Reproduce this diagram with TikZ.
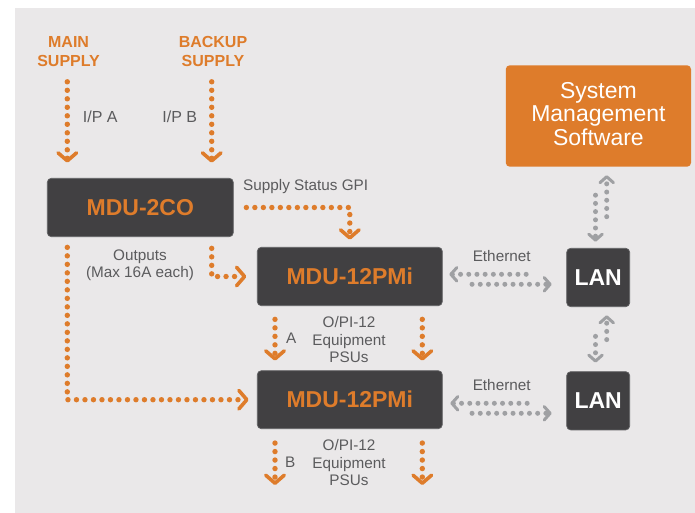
\documentclass[tikz,border=0pt]{standalone}
\usepackage{fontspec}
\setmainfont{Liberation Sans}
\usetikzlibrary{arrows.meta}
\definecolor{orng}{HTML}{DE7C2B}
\definecolor{darkbox}{HTML}{414042}
\definecolor{edgec}{HTML}{626264}
\definecolor{bgc}{HTML}{EAE8E9}
\definecolor{gtxt}{HTML}{5B5B5D}
\definecolor{gdotc}{HTML}{9FA0A3}
\tikzset{
  otip/.tip={Straight Barb[length=8pt,width=18.5pt,line width=3.6pt,round]},
  gtip/.tip={Straight Barb[length=6pt,width=13.5pt,line width=3pt,round]},
  odot/.style={draw=orng, color=orng, line width=5.4pt, line cap=round, dash pattern=on 0pt off 8.5pt},
  gdot/.style={draw=gdotc, color=gdotc, line width=5pt, line cap=round, dash pattern=on 0pt off 8.2pt},
  dbox/.style={fill=darkbox, draw=edgec, line width=0.7pt, rounded corners=4pt, inner sep=0pt,
    font=\fontsize{23}{27}\selectfont\bfseries},
  gtext/.style={text=gtxt, inner sep=0pt, font=\fontsize{15.3}{17.3}\selectfont},
  otext/.style={text=orng, inner sep=0pt, align=center, font=\fontsize{16}{19}\selectfont\bfseries},
}
\begin{document}
\begin{tikzpicture}[x=1pt,y=-1pt]
\useasboundingbox (0,0) rectangle (695,513);
\fill[white] (0,0) rectangle (695,513);
\fill[bgc] (15,8) rectangle (695,513);

% column coordinates
\coordinate (colA) at (67.3,0);
\coordinate (colB) at (211.7,0);
\coordinate (colC) at (275,0);
\coordinate (colD) at (422.3,0);
\coordinate (colL) at (595.5,0);
\coordinate (colR) at (606.7,0);
\coordinate (endBA) at (275,485);
\coordinate (endBB) at (422.3,485);

% boxes
\node[dbox, text=orng, minimum width=186pt, minimum height=58.4pt] (mdu2co) at (140.3,207.5) {MDU-2CO};
\node[dbox, text=orng, minimum width=185pt, minimum height=58.4pt] (mdu1) at (349.8,276.5) {MDU-12PMi};
\node[dbox, text=orng, minimum width=185pt, minimum height=58pt] (mdu2) at (349.8,399.7) {MDU-12PMi};
\node[dbox, text=white, minimum width=63pt, minimum height=58.4pt] (lan1) at (598.2,277.5) {LAN};
\node[dbox, text=white, minimum width=63pt, minimum height=58.3pt] (lan2) at (598.2,400.8) {LAN};
\node[fill=orng, rounded corners=4pt, inner sep=0pt, minimum width=185.3pt, minimum height=101.4pt,
  text=white, align=center, text depth=4.4pt, font=\fontsize{23}{23.75}\selectfont] (sms) at (598.4,116)
  {System\\Management\\Software};

% supply labels
\node[otext, anchor=south] (main) at (68.6,66.8) {MAIN\\SUPPLY};
\node[otext, anchor=south] (bkp) at (213,66.8) {BACKUP\\SUPPLY};

% gray texts
\node[gtext, font=\fontsize{16}{18}\selectfont, anchor=base west] (ipa) at (82.7,122.6) {I/P A};
\node[gtext, font=\fontsize{16}{18}\selectfont, anchor=base east] (ipb) at (197.3,122.6) {I/P B};
\node[gtext, anchor=base west] (gpi) at (243,190.6) {Supply Status GPI};
\node[gtext, align=center, text depth=0pt] (outs) at (140,263.6) {Outputs\\(Max 16A each)};
\node[gtext, align=center, text depth=0pt] (opi1) at (349,339.7) {O/PI-12\\Equipment\\PSUs};
\node[gtext, align=center, text depth=0pt, font=\fontsize{15.3}{17.5}\selectfont] (opi2) at (349,462.5) {O/PI-12\\Equipment\\PSUs};
\node[gtext, anchor=base west] (la) at (286,343.5) {A};
\node[gtext, anchor=base west] (lb) at (285,467.2) {B};
\node[gtext, anchor=base] (eth1) at (501.7,261) {Ethernet};
\node[gtext, anchor=base] (eth2) at (501.7,390) {Ethernet};

% orange connectors
\draw[odot, -otip, shorten <=15pt, shorten >=15.3pt] (main.south -| colA) -- (mdu2co.north -| colA);
\draw[odot, -otip, shorten <=15pt, shorten >=15.3pt] (bkp.south -| colB) -- (mdu2co.north -| colB);
\draw[odot, -otip, shorten <=12.7pt, shorten >=7.3pt] (mdu2co.east) -| (mdu1.north);
\draw[odot, -otip, shorten <=11.3pt, shorten >=10.6pt] (mdu2co.south -| colB) |- (mdu1.west);
\draw[odot, -otip, shorten <=10.3pt, shorten >=8.3pt] (mdu2co.south -| colA) |- (mdu2.west);
\draw[odot, -otip, shorten <=13.3pt, shorten >=9.7pt] (mdu1.south -| colC) -- (mdu2.north -| colC);
\draw[odot, -otip, shorten <=13.3pt, shorten >=9.7pt] (mdu1.south -| colD) -- (mdu2.north -| colD);
\draw[odot, -otip, shorten <=14pt] (mdu2.south -| colC) -- (endBA);
\draw[odot, -otip, shorten <=14pt] (mdu2.south -| colD) -- (endBB);

% gray ethernet connectors
\draw[gdot, gtip-, shorten <=6.7pt, shorten >=37.7pt] ([yshift=2.2pt]mdu1.east) -- ([yshift=2.2pt]mdu1.east -| lan1.west);
\draw[gdot, -gtip, shorten <=29.4pt, shorten >=14.7pt] ([yshift=-7.8pt]mdu1.east) -- ([yshift=-7.8pt]mdu1.east -| lan1.west);
\draw[gdot, gtip-, shorten <=7.7pt, shorten >=37.7pt] ([yshift=-3.6pt]mdu2.east) -- ([yshift=-3.6pt]mdu2.east -| lan2.west);
\draw[gdot, -gtip, shorten <=29.4pt, shorten >=14.7pt] ([yshift=-13.6pt]mdu2.east) -- ([yshift=-13.6pt]mdu2.east -| lan2.west);

% gray vertical connectors
\draw[gdot, -gtip, shorten <=28.3pt, shorten >=6.3pt] (sms.south -| colL) -- (lan1.north -| colL);
\draw[gdot, -gtip, shorten <=31.3pt, shorten >=8.3pt] (lan1.north -| colR) -- (sms.south -| colR);
\draw[gdot, -gtip, shorten <=29.3pt, shorten >=8.7pt] (lan1.south -| colL) -- (lan2.north -| colL);
\draw[gdot, -gtip, shorten <=31.7pt, shorten >=8.3pt] (lan2.north -| colR) -- (lan1.south -| colR);
\end{tikzpicture}
\end{document}
